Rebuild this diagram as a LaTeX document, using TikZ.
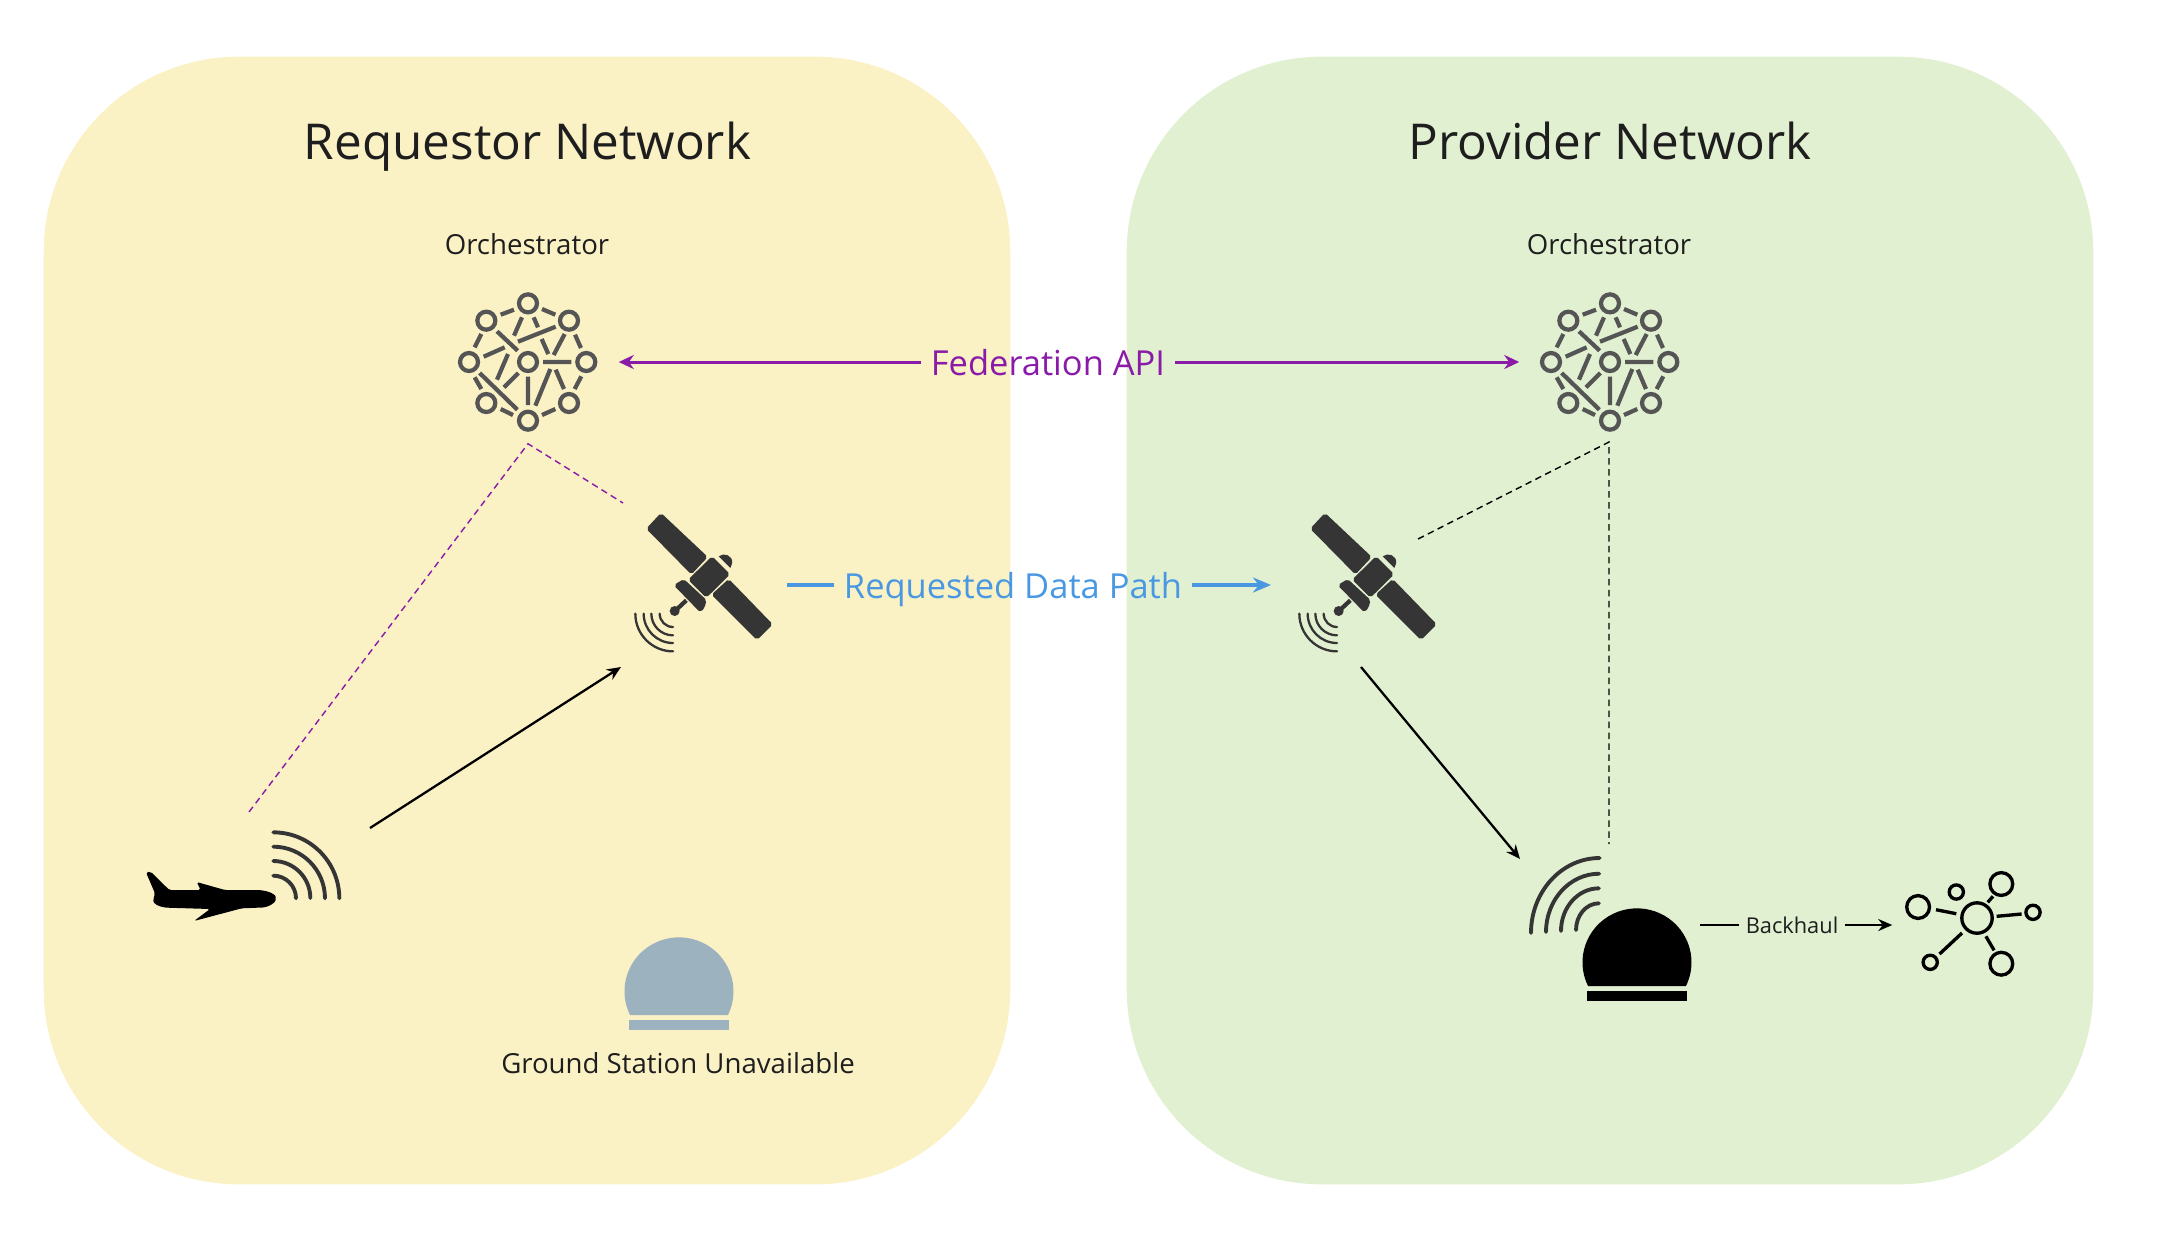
\documentclass[tikz,border=0pt]{standalone}
\usepackage{fontspec}
\setmainfont{Open Sans}
\usetikzlibrary{arrows.meta,positioning}
\definecolor{reqfill}{HTML}{FAF1C5}
\definecolor{provfill}{HTML}{E1F0D0}
\definecolor{fedpurple}{HTML}{8A1BA8}
\definecolor{datablue}{HTML}{4A98E2}
\definecolor{iconfill}{HTML}{353535}
\definecolor{meshgray}{HTML}{555555}
\definecolor{domegray}{HTML}{9DB2BF}
\definecolor{inktext}{HTML}{1E1E1E}
\tikzset{
  panel/.style={ % network background
    rectangle, rounded corners=1.95cm, minimum width=9.66cm, minimum height=11.27cm, inner sep=0pt
  },
  nettitle/.style={font=\fontsize{14.05}{16}\selectfont, text=inktext, inner sep=0pt, text depth=0pt},
  textlabel/.style={font=\fontsize{7.85}{10}\selectfont, text=inktext, inner sep=0pt},
  flowlabel/.style={font=\fontsize{9.8}{12}\selectfont, inner sep=2.6pt, text height=7.4pt, text depth=0pt},
  iconbox/.style 2 args={rectangle, inner sep=0pt, minimum width=#1, minimum height=#2},
  fedarrow/.style={fedpurple, line width=0.85pt, -{Stealth[length=1.5mm,width=1.4mm]}},
  datarrow/.style={datablue, line width=1.1pt, -{Stealth[length=1.8mm,width=1.5mm]}},
  linkarrow/.style={black, line width=0.65pt, -{Stealth[length=1.4mm,width=1.2mm]}},
  fedctrl/.style={fedpurple, line width=0.4pt, dash pattern=on 1.85pt off 1.27pt},
  provctrl/.style={black, line width=0.4pt, dash pattern=on 1.85pt off 1.27pt},
  wave/.style={draw=iconfill, line width=1.1pt, line cap=round},
  thinwave/.style={draw=iconfill, line width=0.65pt, line cap=round},
  satpart/.style={fill=iconfill, draw=iconfill, line width=0.6pt, rounded corners=0.5pt},
  pics/orchestrator/.style={code={ % mesh of nine nodes
    \begin{scope}[scale=1/3, shift={(-325,-274)}, draw=meshgray, line width=1.2pt]
      \draw (325,98) circle (27) (200,150) circle (27) (448,150) circle (27)
            (148,274) circle (27) (325,274) circle (27) (500,274) circle (27)
            (200,397) circle (27) (448,397) circle (27) (325,450) circle (27);
      \draw (243,132) -- (283,117) (367,115) -- (407,132) (165,230) -- (185,190)
            (466,192) -- (484,232) (283,195) -- (307,140) (342,140) -- (355,170)
            (232,182) -- (294,240) (295,213) -- (408,168) (366,205) -- (386,250)
            (402,253) -- (435,190) (192,258) -- (255,230) (232,327) -- (265,250)
            (253,350) -- (296,307) (370,274) -- (455,274) (325,318) -- (325,403)
            (347,405) -- (392,295) (408,297) -- (433,355) (465,355) -- (485,317)
            (165,320) -- (185,355) (180,307) -- (293,417) (243,415) -- (280,433)
            (367,433) -- (407,415);
    \end{scope}
  }},
  pics/satellite/.style={code={
    \begin{scope}[scale=1/3, shift={(-260,-230)}]
      \path[satpart] (122,42) -- (258,170) -- (213,218) -- (82,85) -- cycle;
      \path[satpart] (325,240) -- (453,372) -- (410,415) -- (278,283) -- cycle;
      \path[satpart] (275,172) -- (325,222) -- (258,288) -- (208,238) -- cycle;
      \fill[iconfill] (295,168) .. controls (310,155) and (340,165) .. (335,190) -- (330,203) -- cycle;
      \path[satpart] (165,255) -- (190,240) -- (255,300) -- (250,320) -- (240,332) -- cycle;
      \draw[iconfill, line width=1.2pt] (198,300) -- (168,328);
      \fill[iconfill] (163,332) circle (15);
      \draw[thinwave] (118,340) arc[start angle=180, end angle=90, radius=40];
      \draw[thinwave] (93,340) arc[start angle=180, end angle=90, radius=65];
      \draw[thinwave] (70,340) arc[start angle=180, end angle=90, radius=88];
      \draw[thinwave] (45,340) arc[start angle=180, end angle=90, radius=113];
    \end{scope}
  }},
  pics/dome/.style={code={
    \fill (-49,24) arc[start angle=154, end angle=386, x radius=54.5, y radius=54] -- cycle;
    \fill (-50,29) rectangle (50,39);
  }},
  pics/cluster/.style={code={ % backhaul network
    \begin{scope}[draw=black, line width=0.95pt]
      \draw (0,0) circle (15.2) (-58.9,-11) circle (11.4) (-20.7,-26) circle (7.1)
            (24.3,-34) circle (11.4) (56,-5.7) circle (7.1) (24.3,45.7) circle (11.4)
            (-46.8,44.3) circle (7.1);
      \draw (-41,-8.3) -- (-20.7,-4.3) (10.7,-15.7) -- (16,-21.7) (19.6,-1.7) -- (44.6,-4)
            (8.9,18.3) -- (17.1,32.3) (-15,15) -- (-37.5,36);
    \end{scope}
  }}
}
\begin{document}
\begin{tikzpicture}[x=0.01cm, y=-0.01cm]
    \useasboundingbox (0,0) rectangle (2172,1238);

    \node[panel, fill=reqfill] (reqP) at (527,620.5) {};
    \node[panel, fill=provfill] (provP) at (1610,620.5) {};
    \node[nettitle] (reqT) at (527.5,141) {Requestor Network};
    \node[nettitle] (provT) at (1610,141) {Provider Network};

    \node[iconbox={1.8cm}{1.62cm}] (orchA) at (528,362) {};
    \node[iconbox={1.8cm}{1.62cm}] (orchB) at (1610,362) {};
    \pic at (orchA) {orchestrator};
    \pic at (orchB) {orchestrator};
    \node[textlabel] (orchA_label) at (527,244) {Orchestrator};
    \node[textlabel] (orchB_label) at (1609,244) {Orchestrator};

    \node[iconbox={1.6cm}{1.6cm}] (satA) at (707,577) {};
    \node[iconbox={1.6cm}{1.6cm}] (satB) at (1371,577) {};
    \pic at (satA) {satellite};
    \pic at (satB) {satellite};

    % plane with its radio waves
    \begin{scope}[scale=1/3, shift={(390,2430)}]
      \fill[black, rounded corners=0.5pt] (48,187) -- (62,185) -- (118,240) -- (212,240) -- (200,216)
        -- (285,240) -- (385,240) .. controls (420,243) and (437,255) .. (437,265)
        .. controls (437,278) and (415,293) .. (385,293) -- (335,295) -- (192,333) -- (240,297)
        -- (110,293) .. controls (85,290) and (70,280) .. (70,268) -- (75,250) -- cycle;
      \draw[wave] (430,67) arc[start angle=-90, end angle=0, radius=198];
      \draw[wave] (430,110) arc[start angle=-90, end angle=0, radius=155];
      \draw[wave] (430,153) arc[start angle=-90, end angle=0, radius=111];
      \draw[wave] (430,197) arc[start angle=-90, end angle=0, radius=68];
    \end{scope}

    \node[iconbox={1.24cm}{1cm}] (gndA) at (679,991) {};
    \pic[domegray] at (gndA) {dome};
    \node[textlabel] (gndA_label) at (678,1063) {Ground Station Unavailable};

    \node[iconbox={1.24cm}{1cm}] (gndB) at (1637,962) {};
    \pic[black] at (gndB) {dome};
    \draw[wave] (1531,933) arc[start angle=180, end angle=270, x radius=68.6, y radius=75];
    \draw[wave] (1546,932) arc[start angle=180, end angle=270, x radius=53.2, y radius=58.3];
    \draw[wave] (1561,931) arc[start angle=180, end angle=270, x radius=37.9, y radius=42.7];
    \draw[wave] (1576,930) arc[start angle=180, end angle=270, x radius=22.9, y radius=26.7];

    \node[iconbox={1.68cm}{1cm}] (netB) at (1977,918) {};
    \pic at (netB) {cluster};

    \node[flowlabel, text=fedpurple] (fed) at (1048,362) {Federation API};
    \node[flowlabel, text=datablue] (data) at (1013,585) {Requested Data Path};
    \node[textlabel, font=\fontsize{6.2}{8}\selectfont, inner sep=1.8pt] (backhaul) at (1792,925) {Backhaul};

    \coordinate (planeTop) at (249,812);
    \coordinate (satAtop) at (623,503);
    \coordinate (satBtop) at (1418,539);
    \coordinate (ctrlB) at (1609,442);
    \coordinate (gndBtop) at (1609,844);
    \coordinate (planeOut) at (370,828);
    \coordinate (satAin) at (621,667);
    \coordinate (satAout) at (787,585);
    \coordinate (satBin) at (1271,585);
    \coordinate (satBout) at (1361,667);
    \coordinate (gndBin) at (1520,859);

    \draw[fedarrow] (fed) -- (orchA.east);
    \draw[fedarrow] (fed) -- (orchB.west);
    \draw[datarrow, -] (satAout) -- (data);
    \draw[datarrow] (data) -- (satBin);
    \draw[fedctrl] (planeTop) -- (orchA.south) -- (satAtop);
    \draw[provctrl] (satBtop) -- (ctrlB) -- (gndBtop);
    \draw[linkarrow] (planeOut) -- (satAin);
    \draw[linkarrow] (satBout) -- (gndBin);
    \draw[black, line width=0.7pt] (gndB.east |- backhaul) -- (backhaul);
    \draw[black, line width=0.7pt, -{Stealth[length=1.4mm,width=1.2mm]}] (backhaul) -- (netB.west |- backhaul);
\end{tikzpicture}
\end{document}
